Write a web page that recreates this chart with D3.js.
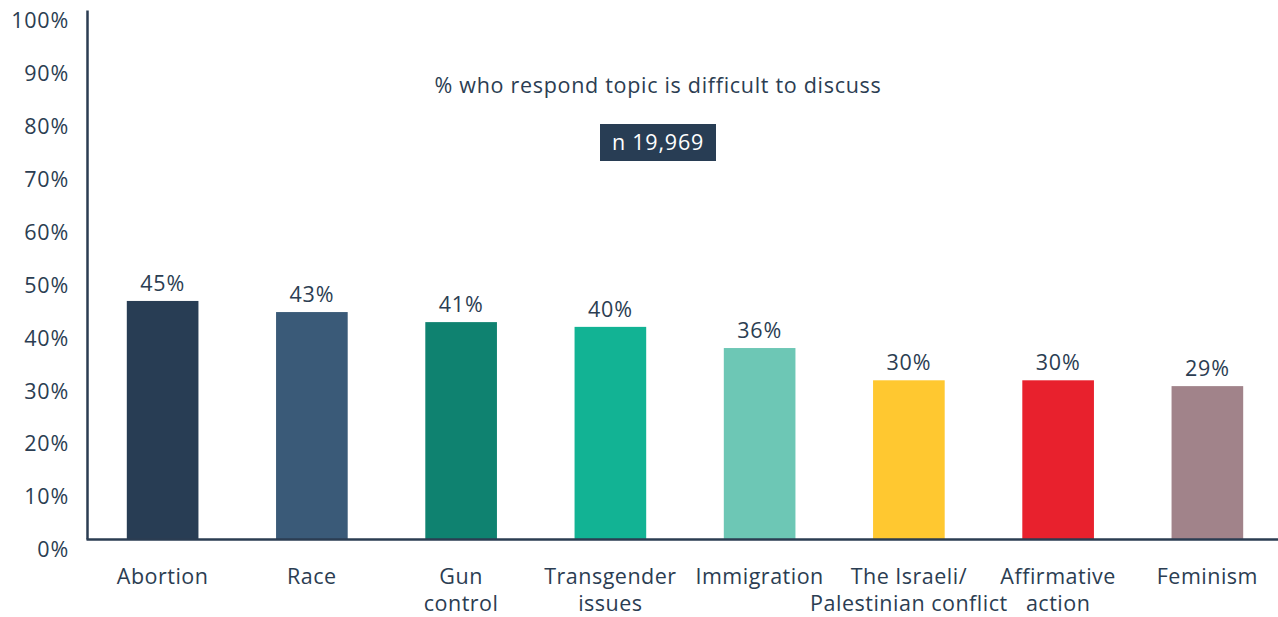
<!DOCTYPE html>
<html><head><meta charset="utf-8">
<script src="https://cdn.jsdelivr.net/npm/d3@7"></script>
<style>html,body{margin:0;padding:0;background:#fff;} svg{display:block;}</style>
</head><body>
<svg id="chart" width="1278" height="617"></svg>
<script>
const categories = [["Abortion"],["Race"],["Gun","control"],["Transgender","issues"],["Immigration"],["The Israeli/","Palestinian conflict"],["Affirmative","action"],["Feminism"]];
const values = [45, 43, 41, 40, 36, 30, 30, 29];
const barValues = [45.0, 42.9, 41.0, 40.1, 36.1, 30.0, 30.0, 28.9];
const colors = ["#283d54","#3a5a78","#0f8270","#12b394","#6dc7b5","#ffc830","#e8212d","#a1838a"];
const yTicks = [0,10,20,30,40,50,60,70,80,90,100];
const subtitle = "% who respond topic is difficult to discuss";
const nLabel = "n 19,969";

const svg = d3.select("#chart");
const font = "'Open Sans', Lato, sans-serif";
const txt = "#2b3d52";

const x = d3.scaleBand().domain(d3.range(categories.length)).range([88, 1282]).paddingInner(0.52).paddingOuter(0.26);
const y = d3.scaleLinear().domain([0,100]).range([539, 10]);

// bars
svg.selectAll("rect.bar").data(values).join("rect")
  .attr("x",(d,i)=>x(i)).attr("width",x.bandwidth())
  .attr("y",(d,i)=>y(barValues[i])).attr("height",(d,i)=>y(0)-y(barValues[i]))
  .attr("fill",(d,i)=>colors[i]);

// value labels
svg.selectAll("text.val").data(values).join("text")
  .attr("x",(d,i)=>x(i)+x.bandwidth()/2).attr("y",(d,i)=>y(barValues[i])-10)
  .attr("text-anchor","middle").attr("font-family",font).attr("font-size",21.5).attr("letter-spacing",0.8).attr("fill",txt)
  .text(d=>d+"%");

// y axis
const yAxis = d3.axisLeft(y).tickValues(yTicks).tickFormat(d=>d+"%").tickSize(0).tickPadding(18);
const gy = svg.append("g").attr("transform","translate(87,0)").call(yAxis);
gy.select(".domain").attr("stroke",txt).attr("stroke-width",2.5);
gy.selectAll("text").attr("font-family",font).attr("font-size",21.5).attr("letter-spacing",0.8).attr("fill",txt).attr("dy","0.8em").attr("y",0.5);

// x axis line
const gx = svg.append("g").attr("transform","translate(0,539)")
  .call(d3.axisBottom(d3.scaleLinear().domain([0,1]).range([86,1278])).tickValues([]).tickSizeOuter(0));
gx.select(".domain").attr("stroke",txt).attr("stroke-width",2.5);

// category labels
const cl = svg.selectAll("text.cat").data(categories).join("text")
  .attr("text-anchor","middle").attr("font-family",font).attr("font-size",21.5).attr("letter-spacing",0.5).attr("fill",txt);
cl.each(function(lines,i){
  const t = d3.select(this);
  lines.forEach((ln,j)=>{
    t.append("tspan").attr("x",x(i)+x.bandwidth()/2).attr("y",584+j*27).text(ln);
  });
});

// subtitle
svg.append("text").attr("x",658).attr("y",93).attr("text-anchor","middle")
  .attr("font-family",font).attr("font-size",21.5).attr("letter-spacing",0.7).attr("fill",txt).text(subtitle);

// n box
svg.append("rect").attr("x",600).attr("y",124).attr("width",116).attr("height",37).attr("fill","#283d54");
svg.append("text").attr("x",658).attr("y",150).attr("text-anchor","middle")
  .attr("font-family",font).attr("font-size",21.5).attr("letter-spacing",0.8).attr("fill","#fff").text(nLabel);
</script>
</body></html>
